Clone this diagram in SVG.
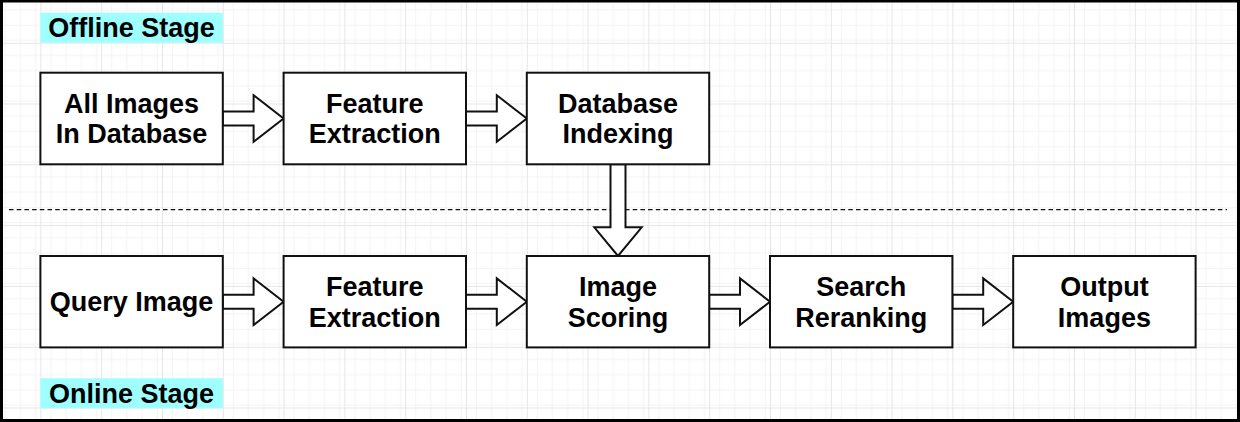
<svg xmlns="http://www.w3.org/2000/svg" width="1240" height="422" viewBox="0 0 1240 422">
<style>
.box{fill:#fff;stroke:#111;stroke-width:2}
.arr{fill:#fff;stroke:#111;stroke-width:2;stroke-linejoin:miter}
.t{font-family:"Liberation Sans",Arial,sans-serif;font-weight:bold;font-size:27px;fill:#000;text-anchor:middle}
.hl{fill:#9ffefe}
</style>
<defs>
<pattern id="minor" patternUnits="userSpaceOnUse" x="-20.4" y="-18.1" width="15.2" height="15.2">
<path d="M0 0.5H15.2M0.5 0V15.2" stroke="#f3f3f3" stroke-width="1" fill="none"/>
</pattern>
<pattern id="major" patternUnits="userSpaceOnUse" x="-20.4" y="-18.1" width="60.8" height="60.8">
<rect width="60.8" height="60.8" fill="url(#minor)"/>
<path d="M0 0.5H60.8M0.5 0V60.8" stroke="#e6e6e6" stroke-width="1" fill="none"/>
</pattern>
</defs>
<rect width="1240" height="422" fill="#fff"/>
<rect width="1240" height="422" fill="url(#major)"/>

<g id="offline-label">
<rect class="hl" x="40.4" y="12.7" width="182.4" height="30"/>
<text class="t" x="131.6" y="36.8">Offline Stage</text>
</g>
<g id="online-label">
<rect class="hl" x="40.4" y="378.3" width="182.4" height="30"/>
<text class="t" x="131.6" y="402.6">Online Stage</text>
</g>

<g id="separator">
<line x1="9" y1="209.6" x2="1227" y2="209.6" stroke="#111" stroke-width="1.4" stroke-dasharray="4.5 3.2"/>
</g>

<g id="connectors">
<path class="arr" d="M222.8 111.5H253.6V95.2L283.6 118.5L253.6 141.8V125.5H222.8Z"/>
<path class="arr" d="M466 111.5H496.8V95.2L526.8 118.5L496.8 141.8V125.5H466Z"/>
<path class="arr" d="M610.5 164.3V227.3H594.3L618 256L641.7 227.3H625.5V164.3Z"/>
<path class="arr" d="M222.8 294.7H253.6V278.4L283.6 301.7L253.6 325V308.7H222.8Z"/>
<path class="arr" d="M466 294.7H496.8V278.4L526.8 301.7L496.8 325V308.7H466Z"/>
<path class="arr" d="M709.2 294.7H740V278.4L770 301.7L740 325V308.7H709.2Z"/>
<path class="arr" d="M952.4 294.7H983.2V278.4L1013.2 301.7L983.2 325V308.7H952.4Z"/>
</g>

<g id="all-images">
<rect class="box" x="40.4" y="72.7" width="182.4" height="91.6"/>
<text class="t" x="131.6" y="112.7">All Images</text>
<text class="t" x="131.6" y="143.3">In Database</text>
</g>
<g id="feature-extraction-offline">
<rect class="box" x="283.6" y="72.7" width="182.4" height="91.6"/>
<text class="t" x="374.8" y="112.7">Feature</text>
<text class="t" x="374.8" y="143.3">Extraction</text>
</g>
<g id="database-indexing">
<rect class="box" x="526.8" y="72.7" width="182.4" height="91.6"/>
<text class="t" x="618" y="112.7">Database</text>
<text class="t" x="618" y="143.3">Indexing</text>
</g>
<g id="query-image">
<rect class="box" x="40.4" y="256" width="182.4" height="91.4"/>
<text class="t" x="131.6" y="310.6">Query Image</text>
</g>
<g id="feature-extraction-online">
<rect class="box" x="283.6" y="256" width="182.4" height="91.4"/>
<text class="t" x="374.8" y="295.9">Feature</text>
<text class="t" x="374.8" y="326.5">Extraction</text>
</g>
<g id="image-scoring">
<rect class="box" x="526.8" y="256" width="182.4" height="91.4"/>
<text class="t" x="618" y="295.9">Image</text>
<text class="t" x="618" y="326.5">Scoring</text>
</g>
<g id="search-reranking">
<rect class="box" x="770" y="256" width="182.4" height="91.4"/>
<text class="t" x="861.2" y="295.9">Search</text>
<text class="t" x="861.2" y="326.5">Reranking</text>
</g>
<g id="output-images">
<rect class="box" x="1013.2" y="256" width="182.4" height="91.4"/>
<text class="t" x="1104.4" y="295.9">Output</text>
<text class="t" x="1104.4" y="326.5">Images</text>
</g>

<rect x="1.5" y="1" width="1237" height="419.5" fill="none" stroke="#000" stroke-width="3"/>
</svg>
